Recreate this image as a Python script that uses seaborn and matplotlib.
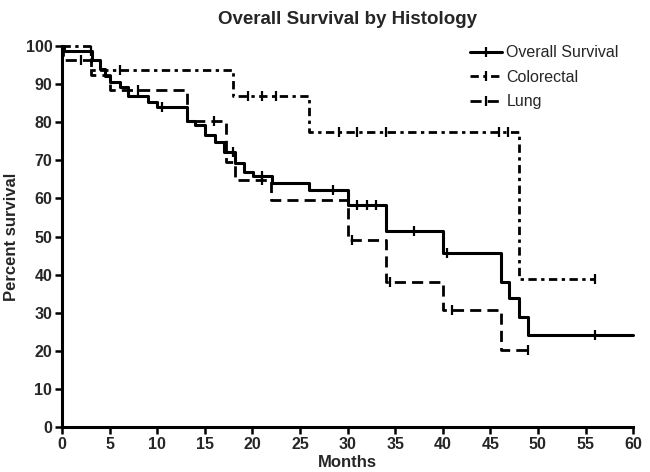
import numpy as np
import pandas as pd
import matplotlib
matplotlib.use("Agg")
import matplotlib.pyplot as plt
from matplotlib.lines import Line2D
import seaborn as sns

# ---- data ----
overall_t = [0, 0.2, 3.1, 4.0, 4.5, 5.0, 6.1, 6.9, 9.0, 10.0, 13.1, 14.0, 15.0, 16.1, 17.0, 18.2, 19.1, 20.1, 22.1, 26.0, 30.0, 34.0, 40.0, 46.1, 47.0, 48.0, 49.0, 60.0]
overall_s = [100, 98.8, 96.3, 94.0, 92.0, 90.5, 89.2, 86.8, 85.3, 84.0, 80.3, 79.3, 76.6, 74.8, 72.2, 69.3, 66.9, 65.9, 64.0, 62.3, 58.3, 51.4, 45.7, 38.1, 33.9, 28.9, 24.1, 24.1]
overall_cens = [3.0, 10.5, 18.0, 21.0, 28.5, 31.0, 32.0, 33.0, 37.0, 40.5, 56.0]

colo_t = [0, 3.0, 18.0, 26.0, 48.0, 56.0]
colo_s = [100, 93.7, 86.8, 77.4, 38.8, 38.8]
colo_cens = [6.1, 19.5, 21.0, 22.5, 29.1, 31.0, 34.0, 45.9, 46.9, 56.0]

lung_t = [0, 0.1, 3.0, 5.0, 13.1, 17.2, 18.2, 22.0, 30.0, 34.0, 40.0, 46.1, 49.0]
lung_s = [100, 96.3, 92.3, 88.4, 80.3, 69.6, 64.8, 59.6, 49.0, 38.1, 30.7, 20.2, 20.2]
lung_cens = [2.0, 8.0, 16.0, 21.0, 30.5, 34.5, 41.0, 49.0]

names = ["Overall Survival", "Colorectal", "Lung"]
x_ticks = [0, 5, 10, 15, 20, 25, 30, 35, 40, 45, 50, 55, 60]
y_ticks = [0, 10, 20, 30, 40, 50, 60, 70, 80, 90, 100]

# ---- build tables ----
curves = {
    "Overall Survival": (overall_t, overall_s, overall_cens),
    "Colorectal": (colo_t, colo_s, colo_cens),
    "Lung": (lung_t, lung_s, lung_cens),
}
styles = {
    "Overall Survival": dict(ls="-", lw=2.2),
    "Colorectal": dict(ls=(0, (3.0, 1.6, 1.2, 1.6)), lw=2.0),
    "Lung": dict(ls=(0, (4.0, 2.2)), lw=2.0),
}

def step_value(ts, ss, t):
    idx = np.searchsorted(np.asarray(ts), t, side="right") - 1
    return ss[max(idx, 0)]

sns.set_theme(style="white")
plt.rcParams["font.family"] = ["Liberation Sans", "DejaVu Sans"]

fig = plt.figure(figsize=(6.5, 4.72), dpi=100)
ax = fig.add_axes([0.0954, 0.0953, 0.8786, 0.8072])

for name in names:
    ts, ss, cens = curves[name]
    df = pd.DataFrame({"t": ts, "s": ss})
    st = styles[name]
    sns.lineplot(data=df, x="t", y="s", ax=ax, color="black", estimator=None,
                 drawstyle="steps-post", linestyle=st["ls"], linewidth=st["lw"],
                 clip_on=False, sort=False)
    cdf = pd.DataFrame({"t": cens, "s": [step_value(ts, ss, c) for c in cens]})
    sns.scatterplot(data=cdf, x="t", y="s", ax=ax, marker="|", color="black",
                    s=45, linewidth=1.6, clip_on=False, zorder=5)

ax.set_xlim(0, 60)
ax.set_ylim(0, 100)
ax.set_xticks(x_ticks)
ax.set_yticks(y_ticks)
ax.set_xticklabels([str(v) for v in x_ticks], fontweight="bold", fontsize=11.5)
ax.set_yticklabels([str(v) for v in y_ticks], fontweight="bold", fontsize=11.5)
ax.tick_params(axis="both", direction="out", length=5, width=1.8, color="black",
               left=True, bottom=True, pad=2)
for side in ["top", "right"]:
    ax.spines[side].set_visible(False)
for side in ["left", "bottom"]:
    ax.spines[side].set_linewidth(2.2)
    ax.spines[side].set_color("black")

ax.set_xlabel("Months", fontweight="bold", fontsize=12, labelpad=2)
ax.set_ylabel("Percent survival", fontweight="bold", fontsize=12, labelpad=5)
ax.set_title("Overall Survival by Histology", fontweight="bold", fontsize=13.5, pad=16)

handles = [Line2D([0], [0], color="black", linestyle=styles[n]["ls"], linewidth=styles[n]["lw"],
                  marker="|", markersize=7, markeredgewidth=1.6) for n in names]
leg = ax.legend(handles, names, loc="upper right", bbox_to_anchor=(1.0, 1.04),
                frameon=False, fontsize=11.5, handlelength=2.0, handletextpad=0.3,
                labelspacing=0.6)

fig.savefig("out.png", dpi=100)
